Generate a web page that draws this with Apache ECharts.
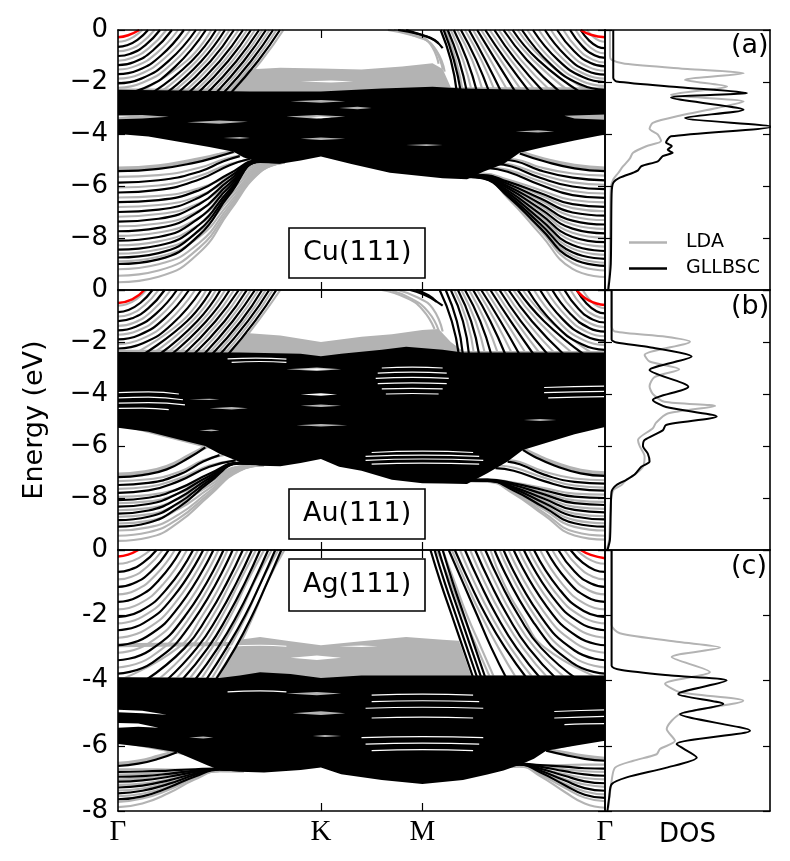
<!DOCTYPE html>
<html>
<head>
<meta charset="utf-8">
<script src="https://cdn.jsdelivr.net/npm/echarts@6/dist/echarts.min.js"></script>
<style>
html,body{margin:0;padding:0;background:#fff}
#main{width:790px;height:861px}
</style>
</head>
<body>
<div id="main"></div>
<script>
// k path in units of |ΓK|: Γ=0, K=1, M=1.5, Γ=2.4
const kTicks = [0, 1, 1.5, 2.4];
const kLabels = ['Γ', 'K', 'M', 'Γ'];

// ---------- Cu(111) ----------
// every band is a flat list k,E,k,E,...
const cuGllUL = [
  [0,-0.65, 0.044,-0.59, 0.096,-0.38, 0.148,0],
  [0,-1.0, 0.062,-0.91, 0.135,-0.58, 0.207,0],
  [0,-1.35, 0.08,-1.23, 0.173,-0.78, 0.266,0],
  [0,-1.7, 0.098,-1.55, 0.211,-0.99, 0.325,0],
  [0,-2.05, 0.115,-1.87, 0.25,-1.19, 0.384,0],
  [0,-2.45, 0.13,-2.23, 0.281,-1.42, 0.433,0],
  [0.172,-2.4, 0.362,-1.2, 0.483,0],
  [0.243,-2.4, 0.41,-1.2, 0.527,0],
  [0.298,-2.4, 0.456,-1.2, 0.571,0],
  [0.35,-2.4, 0.501,-1.2, 0.616,0],
  [0.397,-2.4, 0.542,-1.2, 0.655,0],
  [0.443,-2.4, 0.583,-1.2, 0.695,0],
  [0.485,-2.4, 0.619,-1.2, 0.729,0],
  [0.522,-2.4, 0.655,-1.2, 0.764,0],
  [0.558,-2.4, 0.689,-1.2, 0.798,0]
];
const cuLdaUL = [
  [0,-0.45, 0.036,-0.41, 0.078,-0.26, 0.12,0],
  [0,-0.82, 0.054,-0.75, 0.117,-0.48, 0.18,0],
  [0,-1.18, 0.071,-1.07, 0.155,-0.68, 0.238,0],
  [0,-1.52, 0.089,-1.38, 0.192,-0.88, 0.296,0],
  [0,-1.87, 0.107,-1.7, 0.231,-1.08, 0.356,0],
  [0,-2.22, 0.123,-2.02, 0.267,-1.29, 0.41,0],
  [0.1,-2.4, 0.336,-1.2, 0.46,0],
  [0.208,-2.4, 0.386,-1.2, 0.506,0],
  [0.27,-2.4, 0.433,-1.2, 0.55,0],
  [0.325,-2.4, 0.478,-1.2, 0.594,0],
  [0.374,-2.4, 0.522,-1.2, 0.636,0],
  [0.42,-2.4, 0.563,-1.2, 0.675,0],
  [0.464,-2.4, 0.601,-1.2, 0.712,0],
  [0.504,-2.4, 0.637,-1.2, 0.747,0],
  [0.54,-2.4, 0.672,-1.2, 0.781,0],
  [0.575,-2.4, 0.705,-1.2, 0.815,0]
];
const cuGllUR = [
  [2.4,-0.7, 2.364,-0.64, 2.322,-0.41, 2.28,0],
  [2.4,-1.07, 2.348,-0.97, 2.288,-0.62, 2.228,0],
  [2.4,-1.4, 2.329,-1.27, 2.247,-0.81, 2.164,0],
  [2.4,-1.72, 2.311,-1.57, 2.208,-1.0, 2.104,0],
  [2.4,-2.0, 2.294,-1.82, 2.169,-1.16, 2.045,0],
  [2.4,-2.3, 2.277,-2.09, 2.134,-1.33, 1.991,0],
  [2.28,-2.4, 2.07,-1.15, 1.945,0],
  [2.18,-2.4, 2.015,-1.15, 1.90,0],
  [2.10,-2.4, 1.96,-1.15, 1.855,0],
  [2.03,-2.4, 1.91,-1.15, 1.81,0],
  [1.96,-2.4, 1.86,-1.15, 1.77,0],
  [1.89,-2.4, 1.81,-1.15, 1.73,0],
  [1.83,-2.4, 1.765,-1.15, 1.69,0],
  [1.77,-2.4, 1.72,-1.15, 1.655,0],
  [1.72,-2.4, 1.68,-1.15, 1.625,0],
  [1.69,-2.4, 1.655,-1.15, 1.605,0],
  [1.67,-2.4, 1.64,-1.15, 1.59,0]
];
const cuLdaUR = [
  [2.4,-0.45, 2.373,-0.41, 2.342,-0.26, 2.31,0],
  [2.4,-0.9, 2.357,-0.82, 2.306,-0.52, 2.255,0],
  [2.4,-1.25, 2.339,-1.14, 2.267,-0.73, 2.195,0],
  [2.4,-1.57, 2.32,-1.43, 2.227,-0.91, 2.134,0],
  [2.4,-1.87, 2.302,-1.7, 2.188,-1.08, 2.074,0],
  [2.4,-2.15, 2.285,-1.96, 2.151,-1.25, 2.017,0],
  [2.33,-2.4, 2.1,-1.15, 1.97,0],
  [2.23,-2.4, 2.045,-1.15, 1.922,0],
  [2.14,-2.4, 1.985,-1.15, 1.877,0],
  [2.065,-2.4, 1.935,-1.15, 1.832,0],
  [1.995,-2.4, 1.885,-1.15, 1.79,0],
  [1.925,-2.4, 1.835,-1.15, 1.75,0],
  [1.86,-2.4, 1.79,-1.15, 1.71,0],
  [1.80,-2.4, 1.745,-1.15, 1.672,0],
  [1.745,-2.4, 1.70,-1.15, 1.64,0],
  [1.70,-2.4, 1.665,-1.15, 1.615,0]
];
const cuLdaM = [
  [1.33,0, 1.45,-0.2, 1.53,-0.45, 1.58,-1.3],
  [1.36,0, 1.47,-0.25, 1.55,-0.6, 1.6,-1.5],
  [1.4,0, 1.5,-0.3, 1.57,-0.8, 1.61,-1.6]
];
const cuGllM = [
  [1.38,0, 1.48,-0.15, 1.54,-0.3, 1.58,-0.5],
  [1.42,0, 1.5,-0.2, 1.56,-0.4, 1.6,-0.7]
];
const cuGllLL = [
  [0,-5.43, 0.2,-5.34, 0.38,-5.1, 0.5,-4.85, 0.57,-4.68],
  [0,-5.87, 0.2,-5.78, 0.4,-5.45, 0.52,-5.05, 0.6,-4.85],
  [0,-6.25, 0.2,-6.15, 0.4,-5.75, 0.55,-5.2, 0.65,-4.95],
  [0,-6.62, 0.2,-6.54, 0.4,-6.16, 0.55,-5.52, 0.7,-5.0, 0.8,-5.02],
  [0,-7.0, 0.2,-6.91, 0.4,-6.44, 0.55,-5.65, 0.7,-5.01, 0.8,-5.03],
  [0,-7.37, 0.2,-7.26, 0.4,-6.7, 0.55,-5.77, 0.7,-5.02, 0.8,-5.04],
  [0,-7.74, 0.2,-7.61, 0.4,-6.97, 0.55,-5.9, 0.7,-5.03, 0.8,-5.05],
  [0,-8.1, 0.2,-7.96, 0.4,-7.23, 0.55,-6.02, 0.7,-5.04, 0.8,-5.06],
  [0,-8.45, 0.2,-8.29, 0.4,-7.49, 0.55,-6.14, 0.7,-5.06, 0.8,-5.07],
  [0,-8.75, 0.2,-8.58, 0.4,-7.7, 0.55,-6.24, 0.7,-5.06, 0.8,-5.08],
  [0,-9.0, 0.2,-8.82, 0.4,-7.89, 0.55,-6.33, 0.7,-5.07, 0.8,-5.09]
];
const cuLdaLL = [
  [0,-5.65, 0.2,-5.58, 0.4,-5.3, 0.53,-4.95, 0.62,-4.8],
  [0,-6.06, 0.2,-5.98, 0.4,-5.62, 0.55,-5.15, 0.68,-4.95],
  [0,-6.44, 0.2,-6.38, 0.4,-6.09, 0.55,-5.6, 0.7,-5.14, 0.82,-5.08],
  [0,-6.81, 0.2,-6.73, 0.4,-6.38, 0.55,-5.76, 0.7,-5.18, 0.82,-5.08],
  [0,-7.18, 0.2,-7.08, 0.4,-6.66, 0.55,-5.92, 0.7,-5.22, 0.82,-5.08],
  [0,-7.55, 0.2,-7.44, 0.4,-6.94, 0.55,-6.07, 0.7,-5.26, 0.82,-5.08],
  [0,-7.92, 0.2,-7.79, 0.4,-7.22, 0.55,-6.23, 0.7,-5.29, 0.82,-5.08],
  [0,-8.28, 0.2,-8.13, 0.4,-7.49, 0.55,-6.38, 0.7,-5.33, 0.82,-5.09],
  [0,-8.6, 0.2,-8.44, 0.4,-7.74, 0.55,-6.51, 0.7,-5.36, 0.82,-5.09],
  [0,-8.9, 0.2,-8.72, 0.4,-7.96, 0.55,-6.64, 0.7,-5.39, 0.82,-5.09],
  [0,-9.2, 0.2,-9.01, 0.4,-8.19, 0.55,-6.76, 0.7,-5.42, 0.82,-5.1],
  [0,-9.45, 0.2,-9.25, 0.4,-8.38, 0.55,-6.87, 0.7,-5.45, 0.82,-5.1],
  [0,-9.7, 0.2,-9.49, 0.4,-8.57, 0.55,-6.97, 0.7,-5.47, 0.82,-5.1]
];
const cuGllLR = [
  [2.4,-5.43, 2.25,-5.32, 2.1,-5.05, 1.98,-4.75],
  [2.4,-5.78, 2.24,-5.68, 2.08,-5.4, 1.96,-5.05, 1.9,-5.0],
  [2.4,-6.12, 2.24,-6.02, 2.08,-5.68, 1.94,-5.25, 1.86,-5.15],
  [2.4,-6.46, 2.24,-6.35, 2.08,-5.95, 1.92,-5.45, 1.82,-5.3],
  [2.4,-6.8, 2.24,-6.7, 2.08,-6.27, 1.92,-5.83, 1.8,-5.58, 1.72,-5.6],
  [2.4,-7.14, 2.24,-7.02, 2.08,-6.47, 1.92,-5.91, 1.8,-5.6, 1.72,-5.6],
  [2.4,-7.48, 2.24,-7.33, 2.08,-6.67, 1.92,-6.0, 1.8,-5.62, 1.72,-5.61],
  [2.4,-7.82, 2.24,-7.64, 2.08,-6.87, 1.92,-6.08, 1.8,-5.64, 1.72,-5.62],
  [2.4,-8.16, 2.24,-7.96, 2.08,-7.07, 1.92,-6.17, 1.8,-5.66, 1.72,-5.62],
  [2.4,-8.5, 2.24,-8.27, 2.08,-7.27, 1.92,-6.25, 1.8,-5.68, 1.72,-5.63],
  [2.4,-8.8, 2.24,-8.55, 2.08,-7.45, 1.92,-6.33, 1.8,-5.7, 1.72,-5.64],
  [2.4,-9.07, 2.24,-8.8, 2.08,-7.61, 1.92,-6.39, 1.8,-5.71, 1.72,-5.64]
];
const cuLdaLR = [
  [2.4,-5.6, 2.24,-5.52, 2.08,-5.28, 1.96,-4.98, 1.9,-4.95],
  [2.4,-5.95, 2.24,-5.86, 2.08,-5.55, 1.94,-5.18, 1.86,-5.1],
  [2.4,-6.29, 2.24,-6.19, 2.08,-5.82, 1.92,-5.38, 1.82,-5.28],
  [2.4,-6.63, 2.24,-6.54, 2.08,-6.15, 1.92,-5.75, 1.8,-5.52, 1.72,-5.62],
  [2.4,-6.97, 2.24,-6.85, 2.08,-6.35, 1.92,-5.83, 1.8,-5.54, 1.72,-5.62],
  [2.4,-7.31, 2.24,-7.17, 2.08,-6.55, 1.92,-5.92, 1.8,-5.56, 1.72,-5.62],
  [2.4,-7.65, 2.24,-7.48, 2.08,-6.75, 1.92,-6.0, 1.8,-5.58, 1.72,-5.63],
  [2.4,-7.99, 2.24,-7.8, 2.08,-6.95, 1.92,-6.09, 1.8,-5.6, 1.72,-5.63],
  [2.4,-8.33, 2.24,-8.11, 2.08,-7.15, 1.92,-6.17, 1.8,-5.62, 1.72,-5.64],
  [2.4,-8.65, 2.24,-8.41, 2.08,-7.34, 1.92,-6.25, 1.8,-5.64, 1.72,-5.65],
  [2.4,-8.95, 2.24,-8.68, 2.08,-7.52, 1.92,-6.33, 1.8,-5.66, 1.72,-5.66],
  [2.4,-9.25, 2.24,-8.96, 2.08,-7.69, 1.92,-6.4, 1.8,-5.68, 1.72,-5.66],
  [2.4,-9.5, 2.24,-9.19, 2.08,-7.84, 1.92,-6.46, 1.8,-5.69, 1.72,-5.67]
];
const cuLdaRim = [
  [0,-5.33, 0.2,-5.24, 0.38,-5.0, 0.5,-4.8, 0.58,-4.66],
  [2.4,-5.33, 2.25,-5.22, 2.1,-4.98, 1.99,-4.72]
];
const cuRed = [
  [0,-0.28, 0.05,-0.2, 0.105,0],
  [2.4,-0.28, 2.33,-0.18, 2.28,0]
];
const cuGllD = [[0,-2.3],[0.3,-2.33],[0.65,-2.37],[1.0,-2.37],[1.3,-2.25],[1.55,-2.18],[1.7,-2.25],[2.0,-2.3],[2.4,-2.3],
  [2.4,-4.02],[2.25,-4.25],[2.1,-4.5],[1.98,-4.72],[1.9,-5.15],[1.8,-5.45],[1.72,-5.74],[1.6,-5.7],[1.34,-5.49],[1.15,-5.15],
  [1.0,-4.87],[0.9,-5.02],[0.8,-5.14],[0.7,-5.1],[0.62,-4.9],[0.57,-4.68],[0.45,-4.5],[0.3,-4.3],[0.15,-4.1],[0,-4.0]];
const cuLdaD = [[0,-2.25],[0.55,-2.25],[0.6,-1.85],[0.64,-1.52],[0.8,-1.45],[1.0,-1.48],[1.2,-1.52],[1.4,-1.4],[1.55,-1.28],[1.6,-1.5],[1.64,-2.2],[2.4,-2.2],
  [2.4,-3.9],[2.0,-4.5],[1.6,-5.3],[1.0,-4.7],[0.6,-4.6],[0,-3.9]];
const cuGapGray = [
  [[0,-3.28],[0.12,-3.27],[0.25,-3.34],[0.12,-3.4],[0,-3.43]],
  [[0.34,-3.55],[0.5,-3.48],[0.64,-3.53],[0.5,-3.61]],
  [[0.85,-2.74],[1.0,-2.69],[1.12,-2.74],[1.0,-2.8]],
  [[0.83,-3.33],[0.98,-3.27],[1.12,-3.33],[0.98,-3.41]],
  [[0.52,-4.15],[0.6,-4.12],[0.65,-4.15],[0.6,-4.18]],
  [[0.9,-4.18],[1.0,-4.13],[1.12,-4.18],[1.0,-4.23]],
  [[1.42,-4.42],[1.52,-4.39],[1.6,-4.42],[1.52,-4.46]],
  [[1.96,-3.9],[2.07,-3.86],[2.15,-3.9],[2.07,-3.94]],
  [[2.2,-3.3],[2.4,-3.25],[2.4,-3.45],[2.25,-3.4]],
  [[1.09,-3.0],[1.18,-2.95],[1.25,-3.0],[1.18,-3.05]]
];
const cuGapWhite = [
  [[0.9,-1.98],[1.05,-1.94],[1.16,-1.98],[1.05,-2.02]],
  [[0,-3.32],[0.06,-3.33],[0,-3.36]],
  [[0.95,-3.36],[1.0,-3.33],[1.05,-3.36],[1.0,-3.39]]
];
const cuGapLines = [];
const cuDosLda = [0.03,0, 0.03,-1.0, 0.04,-1.15, 0.12,-1.3, 0.5,-1.5, 0.84,-1.66, 0.485,-1.92, 0.74,-2.17, 0.40,-2.49, 0.84,-2.75, 0.68,-3.0, 0.45,-3.3, 0.29,-3.57, 0.27,-3.8, 0.32,-4.02, 0.34,-4.27, 0.25,-4.47, 0.17,-4.72, 0.15,-4.95, 0.11,-5.24, 0.08,-5.5, 0.05,-5.75, 0.035,-6.1, 0.03,-8.0, 0.025,-9.5, 0.015,-10];
const cuDosGll = [0.05,0, 0.05,-1.0, 0.05,-1.85, 0.07,-1.98, 0.45,-2.2, 0.86,-2.42, 0.40,-2.6, 0.84,-3.07, 0.485,-3.38, 1.01,-3.72, 0.40,-4.09, 0.37,-4.33, 0.405,-4.46, 0.38,-4.61, 0.41,-4.72, 0.35,-4.85, 0.32,-5.05, 0.22,-5.24, 0.2,-5.4, 0.17,-5.49, 0.09,-5.68, 0.05,-5.88, 0.04,-6.3, 0.035,-9.0, 0.02,-10];

// ---------- Au(111) ----------
const auGllUL = [
  [0,-0.85, 0.051,-0.77, 0.111,-0.49, 0.17,0],
  [0,-1.2, 0.069,-1.09, 0.15,-0.7, 0.23,0],
  [0,-1.55, 0.087,-1.41, 0.189,-0.9, 0.29,0],
  [0,-1.9, 0.105,-1.73, 0.228,-1.1, 0.35,0],
  [0,-2.25, 0.123,-2.05, 0.267,-1.31, 0.41,0],
  [0.12,-2.5, 0.34,-1.2, 0.46,0],
  [0.2,-2.5, 0.39,-1.2, 0.505,0],
  [0.26,-2.5, 0.435,-1.2, 0.55,0],
  [0.32,-2.5, 0.48,-1.2, 0.595,0],
  [0.37,-2.5, 0.525,-1.2, 0.635,0],
  [0.42,-2.5, 0.565,-1.2, 0.675,0],
  [0.46,-2.5, 0.605,-1.2, 0.71,0],
  [0.5,-2.5, 0.64,-1.2, 0.745,0],
  [0.54,-2.5, 0.675,-1.2, 0.78,0]
];
const auLdaUL = [
  [0,-0.6, 0.042,-0.55, 0.091,-0.35, 0.14,0],
  [0,-1.02, 0.06,-0.93, 0.13,-0.59, 0.2,0],
  [0,-1.38, 0.078,-1.26, 0.169,-0.8, 0.26,0],
  [0,-1.72, 0.096,-1.57, 0.208,-1.0, 0.32,0],
  [0,-2.08, 0.114,-1.89, 0.247,-1.21, 0.38,0],
  [0.07,-2.5, 0.315,-1.2, 0.435,0],
  [0.16,-2.5, 0.365,-1.2, 0.483,0],
  [0.23,-2.5, 0.412,-1.2, 0.528,0],
  [0.29,-2.5, 0.458,-1.2, 0.572,0],
  [0.345,-2.5, 0.502,-1.2, 0.615,0],
  [0.395,-2.5, 0.545,-1.2, 0.655,0],
  [0.44,-2.5, 0.585,-1.2, 0.692,0],
  [0.48,-2.5, 0.622,-1.2, 0.728,0],
  [0.52,-2.5, 0.657,-1.2, 0.762,0],
  [0.56,-2.5, 0.69,-1.2, 0.8,0]
];
const auGllUR = [
  [2.4,-0.9, 2.358,-0.82, 2.309,-0.52, 2.26,0],
  [2.4,-1.25, 2.34,-1.14, 2.27,-0.73, 2.2,0],
  [2.4,-1.6, 2.322,-1.46, 2.231,-0.93, 2.14,0],
  [2.4,-1.95, 2.304,-1.77, 2.192,-1.13, 2.08,0],
  [2.4,-2.3, 2.286,-2.09, 2.153,-1.33, 2.02,0],
  [2.3,-2.5, 2.1,-1.2, 1.97,0],
  [2.2,-2.5, 2.04,-1.2, 1.925,0],
  [2.12,-2.5, 1.985,-1.2, 1.88,0],
  [2.05,-2.5, 1.935,-1.2, 1.835,0],
  [1.98,-2.5, 1.885,-1.2, 1.79,0],
  [1.91,-2.5, 1.835,-1.2, 1.75,0],
  [1.84,-2.5, 1.785,-1.2, 1.71,0],
  [1.78,-2.5, 1.74,-1.2, 1.675,0],
  [1.73,-2.5, 1.7,-1.2, 1.64,0],
  [1.7,-2.5, 1.67,-1.2, 1.615,0],
  [1.68,-2.5, 1.645,-1.2, 1.585,0]
];
const auLdaUR = [
  [2.4,-0.7, 2.367,-0.64, 2.329,-0.41, 2.29,0],
  [2.4,-1.08, 2.349,-0.98, 2.29,-0.63, 2.23,0],
  [2.4,-1.43, 2.331,-1.3, 2.25,-0.83, 2.17,0],
  [2.4,-1.78, 2.313,-1.62, 2.212,-1.03, 2.11,0],
  [2.4,-2.12, 2.295,-1.93, 2.173,-1.23, 2.05,0],
  [2.35,-2.5, 2.13,-1.2, 1.995,0],
  [2.25,-2.5, 2.07,-1.2, 1.948,0],
  [2.16,-2.5, 2.012,-1.2, 1.902,0],
  [2.085,-2.5, 1.96,-1.2, 1.857,0],
  [2.015,-2.5, 1.91,-1.2, 1.812,0],
  [1.945,-2.5, 1.86,-1.2, 1.77,0],
  [1.875,-2.5, 1.81,-1.2, 1.73,0],
  [1.81,-2.5, 1.762,-1.2, 1.692,0],
  [1.755,-2.5, 1.72,-1.2, 1.657,0]
];
const auLdaM = [
  [1.3,0, 1.42,-0.3, 1.5,-0.75, 1.56,-1.5],
  [1.34,0, 1.45,-0.35, 1.53,-0.85, 1.58,-1.55],
  [1.38,0, 1.48,-0.3, 1.55,-0.7, 1.6,-1.6]
];
const auGllM = [
  [1.44,0, 1.5,-0.15, 1.55,-0.35, 1.6,-0.6],
  [1.47,0, 1.53,-0.2, 1.57,-0.45]
];
const auGllLL = [
  [0,-7.2, 0.12,-7.12, 0.24,-6.9, 0.35,-6.45, 0.43,-6.05],
  [0,-7.5, 0.15,-7.42, 0.3,-7.1, 0.42,-6.6, 0.5,-6.35],
  [0,-7.8, 0.15,-7.71, 0.3,-7.35, 0.45,-6.8, 0.58,-6.55],
  [0,-8.08, 0.15,-7.99, 0.3,-7.64, 0.45,-7.07, 0.6,-6.64, 0.7,-6.68],
  [0,-8.33, 0.15,-8.23, 0.3,-7.81, 0.45,-7.15, 0.6,-6.65, 0.7,-6.68],
  [0,-8.6, 0.15,-8.48, 0.3,-8.0, 0.45,-7.24, 0.6,-6.66, 0.7,-6.68],
  [0,-8.85, 0.15,-8.72, 0.3,-8.18, 0.45,-7.32, 0.6,-6.67, 0.7,-6.69],
  [0,-9.1, 0.15,-8.95, 0.3,-8.35, 0.45,-7.4, 0.6,-6.68, 0.7,-6.7]
];
const auLdaLL = [
  [0,-7.35, 0.15,-7.28, 0.3,-7.0, 0.42,-6.55, 0.52,-6.35],
  [0,-7.65, 0.15,-7.57, 0.3,-7.25, 0.45,-6.75, 0.58,-6.55],
  [0,-7.95, 0.15,-7.89, 0.3,-7.64, 0.45,-7.2, 0.6,-6.78, 0.72,-6.72],
  [0,-8.2, 0.15,-8.13, 0.3,-7.83, 0.45,-7.3, 0.6,-6.8, 0.72,-6.72],
  [0,-8.47, 0.15,-8.39, 0.3,-8.03, 0.45,-7.41, 0.6,-6.83, 0.72,-6.72],
  [0,-8.72, 0.15,-8.63, 0.3,-8.22, 0.45,-7.52, 0.6,-6.86, 0.72,-6.73],
  [0,-8.98, 0.15,-8.88, 0.3,-8.42, 0.45,-7.63, 0.6,-6.88, 0.72,-6.73],
  [0,-9.25, 0.15,-9.13, 0.3,-8.63, 0.45,-7.74, 0.6,-6.91, 0.72,-6.74],
  [0,-9.45, 0.15,-9.32, 0.3,-8.78, 0.45,-7.83, 0.6,-6.93, 0.72,-6.74],
  [0,-9.65, 0.15,-9.52, 0.3,-8.93, 0.45,-7.91, 0.6,-6.95, 0.72,-6.75]
];
const auGllLR = [
  [2.4,-7.15, 2.28,-7.05, 2.15,-6.75, 2.05,-6.4, 1.995,-6.15],
  [2.4,-7.45, 2.25,-7.38, 2.1,-7.1, 1.98,-6.7, 1.92,-6.6],
  [2.4,-7.72, 2.25,-7.64, 2.1,-7.35, 1.95,-6.95, 1.86,-6.85],
  [2.4,-8.0, 2.25,-7.95, 2.1,-7.7, 1.95,-7.44, 1.82,-7.29, 1.72,-7.3],
  [2.4,-8.27, 2.25,-8.2, 2.1,-7.86, 1.95,-7.5, 1.82,-7.3, 1.72,-7.3],
  [2.4,-8.55, 2.25,-8.46, 2.1,-8.03, 1.95,-7.58, 1.82,-7.32, 1.72,-7.31],
  [2.4,-8.82, 2.25,-8.71, 2.1,-8.19, 1.95,-7.64, 1.82,-7.33, 1.72,-7.32],
  [2.4,-9.1, 2.25,-8.97, 2.1,-8.36, 1.95,-7.71, 1.82,-7.34, 1.72,-7.33]
];
const auLdaLR = [
  [2.4,-7.32, 2.25,-7.25, 2.1,-6.98, 1.98,-6.62, 1.93,-6.55],
  [2.4,-7.6, 2.25,-7.52, 2.1,-7.22, 1.96,-6.85, 1.88,-6.75],
  [2.4,-7.87, 2.25,-7.83, 2.1,-7.62, 1.95,-7.41, 1.82,-7.28, 1.72,-7.32],
  [2.4,-8.15, 2.25,-8.09, 2.1,-7.79, 1.95,-7.48, 1.82,-7.3, 1.72,-7.32],
  [2.4,-8.42, 2.25,-8.34, 2.1,-7.95, 1.95,-7.54, 1.82,-7.31, 1.72,-7.32],
  [2.4,-8.7, 2.25,-8.6, 2.1,-8.12, 1.95,-7.61, 1.82,-7.32, 1.72,-7.33],
  [2.4,-8.97, 2.25,-8.85, 2.1,-8.28, 1.95,-7.68, 1.82,-7.34, 1.72,-7.33],
  [2.4,-9.25, 2.25,-9.11, 2.1,-8.45, 1.95,-7.75, 1.82,-7.35, 1.72,-7.34],
  [2.4,-9.45, 2.25,-9.3, 2.1,-8.57, 1.95,-7.8, 1.82,-7.36, 1.72,-7.34],
  [2.4,-9.6, 2.25,-9.44, 2.1,-8.66, 1.95,-7.84, 1.82,-7.37, 1.72,-7.35]
];
const auLdaRim = [
  [0,-7.1, 0.12,-7.02, 0.24,-6.8, 0.35,-6.38, 0.44,-6.0],
  [2.4,-7.05, 2.28,-6.95, 2.15,-6.65, 2.05,-6.32, 2.0,-6.12]
];
const auRed = [
  [0,-0.5, 0.07,-0.36, 0.13,0],
  [2.4,-0.58, 2.32,-0.4, 2.26,0]
];
const auGllD = [[0,-2.38],[0.6,-2.4],[0.9,-2.45],[1.0,-2.55],[1.1,-2.45],[1.3,-2.3],[1.42,-2.18],[1.6,-2.3],[1.7,-2.4],[2.4,-2.4],
  [2.4,-5.27],[2.25,-5.55],[2.1,-5.9],[1.995,-6.15],[1.92,-6.6],[1.82,-7.05],[1.72,-7.46],[1.6,-7.44],[1.5,-7.43],[1.35,-7.3],
  [1.2,-6.95],[1.09,-6.8],[1.0,-6.5],[0.9,-6.65],[0.8,-6.78],[0.7,-6.76],[0.6,-6.62],[0.5,-6.3],[0.43,-6.0],[0.3,-5.75],[0.15,-5.45],[0,-5.3]];
const auLdaD = [[0,-2.3],[0.55,-2.3],[0.6,-1.9],[0.63,-1.65],[0.8,-1.75],[1.0,-2.0],[1.2,-1.8],[1.35,-1.7],[1.5,-1.54],[1.58,-1.5],[1.64,-2.0],[1.7,-2.35],[2.4,-2.35],
  [2.4,-5.2],[2.0,-6.0],[1.5,-7.2],[1.0,-6.3],[0.5,-6.2],[0,-5.2]];
const auGapGray = [
  [[0.45,-4.55],[0.56,-4.5],[0.64,-4.55],[0.56,-4.6]],
  [[0.4,-5.4],[0.46,-5.37],[0.5,-5.4],[0.46,-5.43]],
  [[0.83,-3.05],[0.98,-2.98],[1.1,-3.05],[0.98,-3.12]],
  [[0.9,-4.45],[1.0,-4.4],[1.1,-4.45],[1.0,-4.5]],
  [[0.88,-5.2],[1.0,-5.15],[1.13,-5.2],[1.0,-5.25]],
  [[2.0,-5.0],[2.08,-4.96],[2.16,-5.0],[2.08,-5.04]],
  [[0.35,-4.2],[0.45,-4.18],[0.5,-4.2],[0.45,-4.23]]
];
const auGapWhite = [
  [[0.9,-3.05],[0.98,-3.02],[1.05,-3.05],[0.98,-3.08]],
  [[0.9,-4.02],[1.0,-3.97],[1.08,-4.02],[1.0,-4.07]]
];
const auGapLines = [
  [1.3,-3.0, 1.45,-2.97, 1.6,-3.0], [1.28,-3.2, 1.45,-3.16, 1.62,-3.2], [1.27,-3.4, 1.45,-3.36, 1.63,-3.4],
  [1.28,-3.6, 1.45,-3.57, 1.62,-3.6], [1.3,-3.8, 1.45,-3.78, 1.6,-3.8], [1.32,-4.0, 1.45,-3.98, 1.58,-4.0],
  [1.25,-6.25, 1.5,-6.2, 1.75,-6.25], [1.22,-6.4, 1.5,-6.35, 1.78,-6.4], [1.22,-6.55, 1.5,-6.5, 1.8,-6.55], [1.25,-6.7, 1.5,-6.66, 1.78,-6.7],
  [0,-3.95, 0.15,-3.92, 0.3,-4.0], [0,-4.15, 0.15,-4.12, 0.32,-4.22], [0,-4.35, 0.15,-4.33, 0.33,-4.42], [0,-4.55, 0.12,-4.54, 0.25,-4.6],
  [2.1,-3.75, 2.25,-3.72, 2.4,-3.7], [2.1,-3.95, 2.25,-3.92, 2.4,-3.9], [2.12,-4.15, 2.26,-4.12, 2.4,-4.1],
  [0.54,-2.65, 0.68,-2.62, 0.83,-2.66], [0.56,-2.78, 0.7,-2.75, 0.83,-2.78]
];
const auDosLda = [0.04,0, 0.04,-1.4, 0.06,-1.6, 0.37,-1.8, 0.515,-1.99, 0.24,-2.5, 0.27,-2.75, 0.45,-3.05, 0.3,-3.35, 0.27,-3.7, 0.29,-4.0, 0.36,-4.3, 0.667,-4.46, 0.38,-4.75, 0.31,-5.1, 0.29,-5.32, 0.2,-5.77, 0.21,-6.0, 0.24,-6.4, 0.23,-6.8, 0.19,-7.05, 0.13,-7.3, 0.1,-7.5, 0.05,-7.7, 0.035,-8.2, 0.025,-9.6, 0.01,-10];
const auDosGll = [0.04,0, 0.04,-1.9, 0.07,-2.02, 0.27,-2.2, 0.525,-2.56, 0.27,-3.08, 0.505,-3.72, 0.29,-4.23, 0.37,-4.5, 0.677,-4.87, 0.37,-5.19, 0.35,-5.4, 0.24,-5.77, 0.23,-6.0, 0.26,-6.3, 0.27,-6.6, 0.22,-6.8, 0.18,-7.1, 0.13,-7.3, 0.07,-7.5, 0.04,-7.75, 0.035,-8.5, 0.03,-9.6, 0.015,-10];

// ---------- Ag(111) ----------
const agGllUL = [
  [0,-0.67, 0.057,-0.61, 0.124,-0.39, 0.19,0],
  [0,-1.13, 0.075,-1.03, 0.163,-0.66, 0.25,0],
  [0,-1.59, 0.093,-1.45, 0.202,-0.92, 0.31,0],
  [0,-2.05, 0.111,-1.87, 0.241,-1.19, 0.37,0],
  [0,-2.46, 0.126,-2.24, 0.273,-1.43, 0.42,0],
  [0,-2.92, 0.141,-2.66, 0.306,-1.69, 0.47,0],
  [0,-3.38, 0.156,-3.08, 0.338,-1.96, 0.52,0],
  [0,-3.79, 0.17,-3.45, 0.367,-2.2, 0.565,0],
  [0.134,-4, 0.329,-3, 0.445,-2, 0.537,-1, 0.615,0],
  [0.238,-4, 0.389,-3, 0.496,-2, 0.584,-1, 0.66,0],
  [0.313,-4, 0.443,-3, 0.542,-2, 0.626,-1, 0.7,0],
  [0.377,-4, 0.492,-3, 0.587,-2, 0.667,-1, 0.74,0],
  [0.432,-4, 0.535,-3, 0.627,-2, 0.704,-1, 0.775,0],
  [0.479,-4, 0.578,-3, 0.662,-2, 0.735,-1, 0.805,0]
];
const agLdaUL = [
  [0,-0.42, 0.048,-0.38, 0.104,-0.24, 0.16,0],
  [0,-0.9, 0.066,-0.82, 0.143,-0.52, 0.22,0],
  [0,-1.36, 0.084,-1.24, 0.182,-0.79, 0.28,0],
  [0,-1.82, 0.102,-1.66, 0.221,-1.06, 0.34,0],
  [0,-2.25, 0.119,-2.05, 0.257,-1.31, 0.395,0],
  [0,-2.69, 0.134,-2.45, 0.289,-1.56, 0.445,0],
  [0,-3.15, 0.149,-2.87, 0.322,-1.83, 0.495,0],
  [0,-3.6, 0.162,-3.28, 0.351,-2.09, 0.54,0],
  [0,-4.0, 0.295,-3, 0.417,-2, 0.511,-1, 0.59,0],
  [0.193,-4, 0.358,-3, 0.469,-2, 0.555,-1, 0.64,0],
  [0.278,-4, 0.415,-3, 0.515,-2, 0.597,-1, 0.68,0],
  [0.346,-4, 0.463,-3, 0.557,-2, 0.635,-1, 0.72,0],
  [0.405,-4, 0.507,-3, 0.597,-2, 0.671,-1, 0.758,0],
  [0.456,-4, 0.55,-3, 0.633,-2, 0.704,-1, 0.79,0],
  [0.503,-4, 0.592,-3, 0.668,-2, 0.735,-1, 0.82,0]
];
const agGllUR = [
  [2.4,-0.67, 2.349,-0.61, 2.29,-0.39, 2.23,0],
  [2.4,-1.13, 2.331,-1.03, 2.25,-0.66, 2.17,0],
  [2.4,-1.59, 2.313,-1.45, 2.212,-0.92, 2.11,0],
  [2.4,-2.05, 2.295,-1.87, 2.173,-1.19, 2.05,0],
  [2.4,-2.46, 2.28,-2.24, 2.14,-1.43, 2.0,0],
  [2.4,-2.92, 2.265,-2.66, 2.108,-1.69, 1.95,0],
  [2.4,-3.38, 2.25,-3.08, 2.075,-1.96, 1.9,0],
  [2.4,-3.79, 2.237,-3.45, 2.046,-2.2, 1.855,0],
  [2.271,-4, 2.085,-3, 1.973,-2, 1.885,-1, 1.81,0],
  [2.169,-4, 2.023,-3, 1.919,-2, 1.834,-1, 1.76,0],
  [2.091,-4, 1.964,-3, 1.865,-2, 1.783,-1, 1.71,0],
  [2.023,-4, 1.908,-3, 1.813,-2, 1.733,-1, 1.66,0],
  [1.92,-4, 1.84,-3, 1.77,-2, 1.7,-1, 1.63,0],
  [1.815,-4, 1.76,-3, 1.705,-2, 1.65,-1, 1.6,0],
  [1.795,-4, 1.74,-3, 1.685,-2, 1.63,-1, 1.58,0],
  [1.775,-4, 1.72,-3, 1.665,-2, 1.61,-1, 1.56,0],
  [1.755,-4, 1.70,-3, 1.645,-2, 1.59,-1, 1.54,0]
];
const agLdaUR = [
  [2.4,-0.42, 2.358,-0.38, 2.309,-0.24, 2.26,0],
  [2.4,-0.9, 2.34,-0.82, 2.27,-0.52, 2.2,0],
  [2.4,-1.36, 2.322,-1.24, 2.231,-0.79, 2.14,0],
  [2.4,-1.82, 2.304,-1.66, 2.192,-1.06, 2.08,0],
  [2.4,-2.25, 2.288,-2.05, 2.156,-1.31, 2.025,0],
  [2.4,-2.69, 2.273,-2.45, 2.124,-1.56, 1.975,0],
  [2.4,-3.15, 2.258,-2.87, 2.091,-1.83, 1.925,0],
  [2.4,-3.6, 2.244,-3.28, 2.062,-2.09, 1.88,0],
  [2.4,-4.0, 2.105,-3, 1.99,-2, 1.9,-1, 1.835,0],
  [2.22,-4, 2.055,-3, 1.945,-2, 1.86,-1, 1.785,0],
  [2.13,-4, 1.995,-3, 1.892,-2, 1.808,-1, 1.735,0],
  [2.055,-4, 1.935,-3, 1.838,-2, 1.757,-1, 1.685,0],
  [1.97,-4, 1.875,-3, 1.79,-2, 1.715,-1, 1.645,0],
  [1.86,-4, 1.79,-3, 1.72,-2, 1.66,-1, 1.6,0],
  [1.84,-4, 1.77,-3, 1.7,-2, 1.64,-1, 1.57,0]
];
const agLdaM = [];
const agGllM = [];
const agGllLL = [
  [0,-6.62, 0.1,-6.55, 0.2,-6.4, 0.29,-6.2],
  [0,-6.8, 0.12,-6.79, 0.25,-6.76, 0.38,-6.72, 0.5,-6.7, 0.6,-6.74],
  [0,-6.95, 0.12,-6.93, 0.25,-6.86, 0.38,-6.76, 0.5,-6.71, 0.6,-6.74],
  [0,-7.1, 0.12,-7.06, 0.25,-6.95, 0.38,-6.8, 0.5,-6.71, 0.6,-6.74],
  [0,-7.28, 0.12,-7.22, 0.25,-7.06, 0.38,-6.85, 0.5,-6.72, 0.6,-6.74],
  [0,-7.46, 0.12,-7.38, 0.25,-7.17, 0.38,-6.89, 0.5,-6.72, 0.6,-6.74],
  [0,-7.64, 0.12,-7.55, 0.25,-7.28, 0.38,-6.94, 0.5,-6.73, 0.6,-6.75]
];
const agLdaLL = [
  [0,-6.72, 0.12,-6.72, 0.25,-6.73, 0.38,-6.74, 0.5,-6.75, 0.62,-6.77],
  [0,-6.88, 0.12,-6.87, 0.25,-6.83, 0.38,-6.78, 0.5,-6.75, 0.62,-6.77],
  [0,-7.03, 0.12,-7.0, 0.25,-6.92, 0.38,-6.82, 0.5,-6.76, 0.62,-6.77],
  [0,-7.2, 0.12,-7.16, 0.25,-7.03, 0.38,-6.86, 0.5,-6.76, 0.62,-6.77],
  [0,-7.37, 0.12,-7.31, 0.25,-7.13, 0.38,-6.91, 0.5,-6.77, 0.62,-6.78],
  [0,-7.55, 0.12,-7.47, 0.25,-7.25, 0.38,-6.95, 0.5,-6.77, 0.62,-6.78],
  [0,-7.72, 0.12,-7.62, 0.25,-7.35, 0.38,-6.99, 0.5,-6.78, 0.62,-6.78],
  [0,-7.88, 0.12,-7.77, 0.25,-7.45, 0.38,-7.03, 0.5,-6.78, 0.62,-6.78]
];
const agGllLR = [
  [2.4,-6.46, 2.3,-6.4, 2.2,-6.28, 2.11,-6.15],
  [2.4,-6.7, 2.3,-6.69, 2.2,-6.64, 2.08,-6.59, 1.98,-6.55, 1.9,-6.6],
  [2.4,-6.92, 2.3,-6.88, 2.2,-6.78, 2.08,-6.64, 1.98,-6.56, 1.9,-6.6],
  [2.4,-7.15, 2.3,-7.09, 2.2,-6.92, 2.08,-6.7, 1.98,-6.57, 1.9,-6.6],
  [2.4,-7.38, 2.3,-7.3, 2.2,-7.06, 2.08,-6.76, 1.98,-6.57, 1.9,-6.6],
  [2.4,-7.6, 2.3,-7.5, 2.2,-7.2, 2.08,-6.81, 1.98,-6.58, 1.9,-6.61]
];
const agLdaLR = [
  [2.4,-6.58, 2.3,-6.58, 2.2,-6.59, 2.08,-6.6, 1.98,-6.6, 1.88,-6.66],
  [2.4,-6.8, 2.3,-6.78, 2.2,-6.72, 2.08,-6.65, 1.98,-6.61, 1.88,-6.66],
  [2.4,-7.03, 2.3,-6.99, 2.2,-6.87, 2.08,-6.71, 1.98,-6.61, 1.88,-6.66],
  [2.4,-7.26, 2.3,-7.19, 2.2,-7.01, 2.08,-6.77, 1.98,-6.62, 1.88,-6.66],
  [2.4,-7.49, 2.3,-7.4, 2.2,-7.15, 2.08,-6.82, 1.98,-6.63, 1.88,-6.67],
  [2.4,-7.7, 2.3,-7.59, 2.2,-7.28, 2.08,-6.88, 1.98,-6.63, 1.88,-6.67],
  [2.4,-7.9, 2.3,-7.77, 2.2,-7.41, 2.08,-6.93, 1.98,-6.64, 1.88,-6.68]
];
const agLdaRim = [
  [0,-6.55, 0.1,-6.48, 0.2,-6.33, 0.3,-6.15],
  [2.4,-6.4, 2.3,-6.33, 2.2,-6.22, 2.12,-6.12],
  [0,-2.92, 0.3,-2.9, 0.55,-2.88]
];
const agRed = [
  [0,-0.2, 0.05,-0.14, 0.1,0],
  [2.4,-0.25, 2.33,-0.15, 2.28,0]
];
const agGllD = [[0,-3.9],[0.5,-3.92],[0.6,-3.85],[0.7,-3.75],[0.85,-3.8],[1.0,-3.92],[1.2,-3.85],[1.5,-3.85],[1.8,-3.85],[2.4,-3.85],
  [2.4,-5.85],[2.25,-6.0],[2.11,-6.15],[2.05,-6.4],[1.99,-6.56],[1.9,-6.76],[1.82,-6.88],[1.7,-7.05],[1.5,-7.17],[1.3,-7.05],[1.1,-6.87],
  [1.0,-6.67],[0.9,-6.74],[0.72,-6.82],[0.6,-6.8],[0.5,-6.74],[0.44,-6.6],[0.29,-6.2],[0.15,-6.05],[0,-5.95]];
const agLdaD = [[0,-3.9],[0.48,-3.9],[0.6,-2.75],[0.7,-2.67],[0.85,-2.8],[1.0,-2.92],[1.2,-2.8],[1.42,-2.67],[1.6,-2.75],[1.68,-2.78],[1.74,-3.85],[2.4,-3.85],
  [2.4,-5.8],[2.0,-6.3],[1.5,-7.0],[1.0,-6.5],[0.5,-6.5],[0,-5.9]];
const agGapGray = [
  [[0.83,-4.4],[0.98,-4.35],[1.1,-4.4],[0.98,-4.45]],
  [[0.86,-5.0],[1.0,-4.94],[1.12,-5.0],[1.0,-5.06]],
  [[0.96,-5.7],[1.02,-5.67],[1.1,-5.7],[1.02,-5.73]],
  [[0.35,-5.75],[0.42,-5.72],[0.47,-5.75],[0.42,-5.78]]
];
const agGapWhite = [
  [[0,-4.9],[0.12,-4.93],[0.24,-5.05],[0.12,-5.0],[0,-4.97]],
  [[0,-5.3],[0.1,-5.32],[0.2,-5.45],[0.1,-5.42],[0,-5.45]],
  [[0.85,-3.3],[0.98,-3.23],[1.1,-3.3],[0.98,-3.37]],
  [[1.09,-2.95],[1.2,-2.93],[1.28,-2.95],[1.2,-2.97]]
];
const agGapLines = [
  [0.54,-2.95, 0.7,-2.92, 0.83,-2.95], [0.54,-4.35, 0.7,-4.32, 0.83,-4.35],
  [1.25,-4.45, 1.5,-4.42, 1.75,-4.45], [1.25,-4.65, 1.5,-4.62, 1.78,-4.65], [1.22,-4.85, 1.5,-4.82, 1.8,-4.85],
  [1.25,-5.15, 1.5,-5.12, 1.75,-5.15], [1.2,-5.75, 1.5,-5.72, 1.8,-5.75], [1.22,-5.95, 1.5,-5.92, 1.78,-5.95],
  [1.25,-6.15, 1.5,-6.12, 1.75,-6.15],
  [2.15,-4.95, 2.28,-4.92, 2.4,-4.9], [2.15,-5.15, 2.28,-5.12, 2.4,-5.1], [2.2,-5.35, 2.3,-5.33, 2.4,-5.32]
];
const agDosLda = [0.04,0, 0.04,-2.3, 0.09,-2.55, 0.45,-2.82, 0.697,-2.99, 0.404,-3.28, 0.636,-3.74, 0.364,-4.1, 0.455,-4.36, 0.838,-4.62, 0.455,-5.03, 0.374,-5.49, 0.424,-5.85, 0.333,-6.1, 0.313,-6.26, 0.172,-6.46, 0.061,-6.67, 0.04,-7.08, 0.02,-7.9];
const agDosGll = [0.04,0, 0.04,-3.55, 0.1,-3.68, 0.4,-3.85, 0.737,-4.0, 0.444,-4.41, 0.717,-4.72, 0.455,-5.03, 0.879,-5.54, 0.434,-5.95, 0.556,-6.36, 0.374,-6.67, 0.131,-6.97, 0.04,-7.18, 0.025,-7.6, 0.015,-8];

// ---------- layout / styling ----------
const BLACK = '#000000', GRAY = '#b3b3b3', RED = '#ff0000', WHITE = '#ffffff';
const FONT = 'DejaVu Sans';

const panels = [
  {eMin: -10, top: 30, h: 260, minus: '\u2212', gllD: cuGllD, ldaD: cuLdaD,
   gll: [cuGllUL, cuGllUR, cuGllLL, cuGllLR, cuGllM], lda: [cuLdaUL, cuLdaUR, cuLdaLL, cuLdaLR, cuLdaM],
   rim: cuLdaRim, red: cuRed, gapGray: cuGapGray, gapWhite: cuGapWhite, gapLines: cuGapLines,
   dosLda: cuDosLda, dosGll: cuDosGll},
  {eMin: -10, top: 290, h: 260, minus: '\u2212', gllD: auGllD, ldaD: auLdaD,
   gll: [auGllUL, auGllUR, auGllLL, auGllLR, auGllM], lda: [auLdaUL, auLdaUR, auLdaLL, auLdaLR, auLdaM],
   rim: auLdaRim, red: auRed, gapGray: auGapGray, gapWhite: auGapWhite, gapLines: auGapLines,
   dosLda: auDosLda, dosGll: auDosGll},
  {eMin: -8, top: 550, h: 261, minus: '-', gllD: agGllD, ldaD: agLdaD,
   gll: [agGllUL, agGllUR, agGllLL, agGllLR, agGllM], lda: [agLdaUL, agLdaUR, agLdaLL, agLdaLR, agLdaM],
   rim: agLdaRim, red: agRed, gapGray: agGapGray, gapWhite: agGapWhite, gapLines: agGapLines,
   dosLda: agDosLda, dosGll: agDosGll}
];

function pairs(flat) {
  const out = [];
  for (let i = 0; i < flat.length; i += 2) out.push([flat[i], flat[i + 1]]);
  return out;
}

function bandLine(flat, color, width, ax, z, name) {
  return {
    type: 'line', name: name, xAxisIndex: ax, yAxisIndex: ax, data: pairs(flat),
    showSymbol: false, symbol: 'none', smooth: 0.5, silent: true, animation: false, z: z,
    lineStyle: {color: color, width: width}, itemStyle: {color: color}
  };
}

function polySeries(polys, color, ax, z) {
  return {
    type: 'custom', coordinateSystem: 'cartesian2d', xAxisIndex: ax, yAxisIndex: ax,
    silent: true, animation: false, z: z,
    data: polys.map(p => p[0]),
    renderItem: (params, api) => ({
      type: 'polygon',
      shape: {points: polys[params.dataIndex].map(pt => api.coord(pt))},
      style: {fill: color, stroke: null}
    })
  };
}

const grids = [], xAxes = [], yAxes = [], series = [];
const axisLine = {show: true, onZero: false, lineStyle: {color: BLACK, width: 1.6}};
const tickStyle = {color: BLACK, width: 1.2};

panels.forEach((p, i) => {
  grids.push({left: 118, top: p.top, width: 487, height: p.h, outerBoundsMode: 'none'});
  grids.push({left: 605, top: p.top, width: 165, height: p.h, outerBoundsMode: 'none'});
  const gb = 2 * i, gd = 2 * i + 1, last = i === panels.length - 1;

  // band x axes (bottom, top)
  xAxes.push({gridIndex: gb, type: 'value', min: 0, max: 2.4, position: 'bottom', z: 8,
    axisLine: axisLine, splitLine: {show: false},
    axisTick: {show: true, inside: true, length: 8, customValues: [kTicks[1], kTicks[2]], lineStyle: tickStyle},
    axisLabel: last ? {show: true, customValues: kTicks, formatter: v => kLabels[kTicks.indexOf(v)],
      fontFamily: 'Liberation Serif', fontSize: 29, color: BLACK, margin: 7} : {show: false}});
  xAxes.push({gridIndex: gb, type: 'value', min: 0, max: 2.4, position: 'top', z: 8,
    axisLine: axisLine, splitLine: {show: false},
    axisTick: {show: true, inside: true, length: 8, customValues: [kTicks[1], kTicks[2]], lineStyle: tickStyle},
    axisLabel: {show: false}});
  // DOS x axes
  xAxes.push({gridIndex: gd, type: 'value', min: 0, max: 1, position: 'bottom', z: 8,
    axisLine: axisLine, splitLine: {show: false}, axisTick: {show: false}, axisLabel: {show: false},
    name: last ? 'DOS' : '', nameLocation: 'middle', nameGap: 11,
    nameTextStyle: {fontFamily: FONT, fontSize: 26, color: BLACK, verticalAlign: 'top'}});
  xAxes.push({gridIndex: gd, type: 'value', min: 0, max: 1, position: 'top', z: 8,
    axisLine: axisLine, splitLine: {show: false}, axisTick: {show: false}, axisLabel: {show: false}});

  const yBase = {type: 'value', min: p.eMin, max: 0, interval: 2, z: 8, axisLine: axisLine,
    splitLine: {show: false}, axisTick: {show: true, inside: true, length: 7, lineStyle: tickStyle}};
  yAxes.push(Object.assign({}, yBase, {gridIndex: gb, position: 'left',
    axisLabel: {show: true, fontFamily: FONT, fontSize: 26, color: BLACK, margin: 10,
      formatter: v => (v === -10 ? '' : (v < 0 ? p.minus + (-v) : String(v)))},
    name: i === 1 ? 'Energy (eV)' : '', nameLocation: 'middle', nameRotate: 90, nameGap: 70,
    nameTextStyle: {fontFamily: FONT, fontSize: 27, color: BLACK}}));
  yAxes.push(Object.assign({}, yBase, {gridIndex: gb, position: 'right', axisLabel: {show: false}}));
  yAxes.push(Object.assign({}, yBase, {gridIndex: gd, position: 'left', axisLabel: {show: false}}));
  yAxes.push(Object.assign({}, yBase, {gridIndex: gd, position: 'right', axisLabel: {show: false}}));

  const ab = 4 * i, ad = 4 * i + 2;
  series.push(polySeries([p.ldaD], GRAY, ab, 1));
  p.lda.forEach(group => group.forEach(b => series.push(bandLine(b, GRAY, 2.1, ab, 2))));
  p.rim.forEach(b => series.push(bandLine(b, GRAY, 4, ab, 2)));
  series.push(polySeries([p.gllD], BLACK, ab, 3));
  if (p.gapGray.length) series.push(polySeries(p.gapGray, GRAY, ab, 4));
  if (p.gapWhite.length) series.push(polySeries(p.gapWhite, WHITE, ab, 4));
  p.gapLines.forEach(b => series.push(bandLine(b, WHITE, 1.2, ab, 4)));
  p.gll.forEach(group => group.forEach(b => series.push(bandLine(b, BLACK, 2.2, ab, 5))));
  p.red.forEach(b => series.push(bandLine(b, RED, 2.5, ab, 5)));

  const dl = bandLine(p.dosLda, GRAY, 2, ad, 5, i === 0 ? 'LDA' : undefined);
  const dg = bandLine(p.dosGll, BLACK, 2, ad, 5, i === 0 ? 'GLLBSC' : undefined);
  dl.smooth = 0.25; dg.smooth = 0.25;
  series.push(dl, dg);
});

const boxText = {fontFamily: FONT, fontSize: 27, fontWeight: 'normal', color: BLACK};
const option = {
  animation: false,
  backgroundColor: '#ffffff',
  textStyle: {fontFamily: FONT},
  grid: grids,
  xAxis: xAxes,
  yAxis: yAxes,
  title: [
    {text: 'Cu(111)', left: 289, top: 228, padding: [11, 14, 12, 14], borderColor: BLACK, borderWidth: 1.6, backgroundColor: WHITE, z: 10, textStyle: boxText},
    {text: 'Au(111)', left: 289, top: 489, padding: [11, 14, 12, 14], borderColor: BLACK, borderWidth: 1.6, backgroundColor: WHITE, z: 10, textStyle: boxText},
    {text: 'Ag(111)', left: 289, top: 559, padding: [12, 14, 13, 14], borderColor: BLACK, borderWidth: 1.6, backgroundColor: WHITE, z: 10, textStyle: boxText},
    {text: '(a)', left: 731, top: 32, padding: 0, z: 10, textStyle: boxText},
    {text: '(b)', left: 731, top: 293, padding: 0, z: 10, textStyle: boxText},
    {text: '(c)', left: 731, top: 553, padding: 0, z: 10, textStyle: boxText}
  ],
  legend: {
    data: [{name: 'LDA', icon: 'rect'}, {name: 'GLLBSC', icon: 'rect'}],
    left: 624, top: 228, orient: 'vertical', itemWidth: 38, itemHeight: 2.5, itemGap: 7,
    selectedMode: false, z: 10,
    textStyle: {fontFamily: FONT, fontSize: 19, color: BLACK, padding: [0, 0, 0, 14]}
  },
  series: series
};

const chart = echarts.init(document.getElementById('main'));
chart.setOption(option);
</script>
</body>
</html>
